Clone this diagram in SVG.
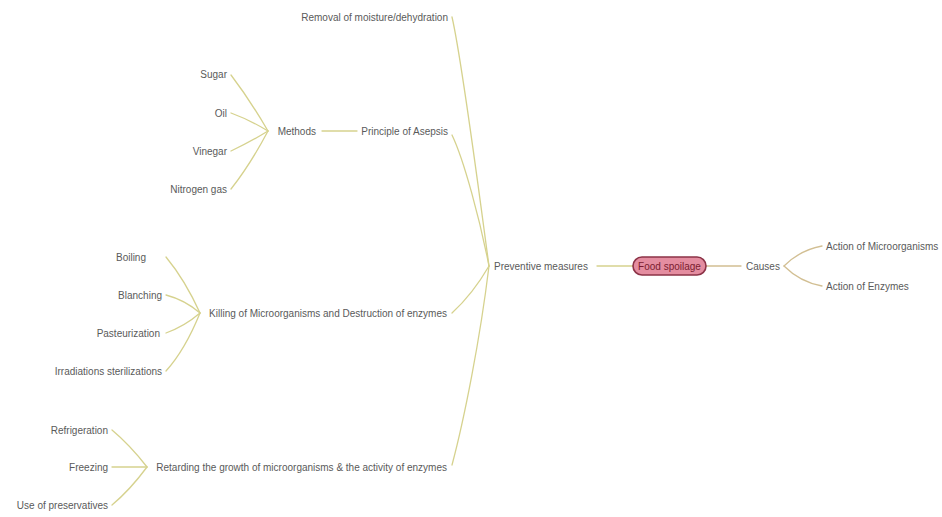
<svg xmlns="http://www.w3.org/2000/svg" width="942" height="517" viewBox="0 0 942 517">
  <style>
    .t { font-family: "Liberation Sans", Arial, sans-serif; font-size: 10px; fill: #5a5a5a; }
    .r { text-anchor: end; }
    .c { fill: none; stroke: #d6d28e; stroke-width: 1.3; stroke-linecap: round; }
    .cw { fill: none; stroke: #d2bf93; stroke-width: 1.3; stroke-linecap: round; }
    .root { fill: #e48da0; stroke: #8c3347; stroke-width: 1.6; }
    .rt { font-family: "Liberation Sans", Arial, sans-serif; font-size: 10px; fill: #7a1c30; text-anchor: middle; }
  </style>
  <rect width="942" height="517" fill="#ffffff"/>

  <g id="connectors">
    <!-- root links -->
    <path class="c" d="M597,266 L633,266"/>
    <path class="cw" d="M706,266 L741,266"/>
    <!-- causes -->
    <path class="cw" d="M784,266 Q800,250 822,246"/>
    <path class="cw" d="M784,266 Q800,282 822,286"/>
    <!-- preventive measures hub -->
    <path class="c" d="M489,266 C480,200 462,60 452,17"/>
    <path class="c" d="M489,266 C480,220 464,160 452,135"/>
    <path class="c" d="M489,266 C478,285 464,302 452,313"/>
    <path class="c" d="M489,266 C480,340 464,420 452,465"/>
    <!-- principle of asepsis -->
    <path class="c" d="M322,131 L357,131"/>
    <path class="c" d="M268,131 Q250,100 231,75"/>
    <path class="c" d="M268,131 Q250,120 231,113"/>
    <path class="c" d="M268,131 Q250,142 231,151"/>
    <path class="c" d="M268,131 Q250,165 231,189"/>
    <!-- killing -->
    <path class="c" d="M200,313 Q185,280 166,257"/>
    <path class="c" d="M200,313 Q185,300 166,295"/>
    <path class="c" d="M200,313 Q185,326 166,333"/>
    <path class="c" d="M200,313 Q185,350 166,371"/>
    <!-- retarding -->
    <path class="c" d="M147,467 Q130,445 112,430"/>
    <path class="c" d="M147,467 L112,467"/>
    <path class="c" d="M147,467 Q130,490 112,505"/>
  </g>

  <g id="food-spoilage">
    <rect class="root" x="633" y="257" width="73" height="18" rx="9"/>
    <text class="rt" x="669.5" y="269.5">Food spoilage</text>
  </g>
  <g id="causes"><text class="t" x="746" y="269.5">Causes</text></g>
  <g id="action-microorganisms"><text class="t" x="826" y="249.5">Action of Microorganisms</text></g>
  <g id="action-enzymes"><text class="t" x="826" y="289.5">Action of Enzymes</text></g>

  <g id="preventive-measures"><text class="t" x="494" y="269.5">Preventive measures</text></g>
  <g id="removal-moisture"><text class="t r" x="448" y="20.5">Removal of moisture/dehydration</text></g>
  <g id="principle-asepsis"><text class="t r" x="448" y="134.5">Principle of Asepsis</text></g>
  <g id="methods"><text class="t r" x="316" y="134.5">Methods</text></g>
  <g id="sugar"><text class="t r" x="227" y="77.5">Sugar</text></g>
  <g id="oil"><text class="t r" x="227" y="116.5">Oil</text></g>
  <g id="vinegar"><text class="t r" x="227" y="154.5">Vinegar</text></g>
  <g id="nitrogen-gas"><text class="t r" x="227" y="192.5">Nitrogen gas</text></g>

  <g id="killing"><text class="t r" x="447" y="316.5">Killing of Microorganisms and Destruction of enzymes</text></g>
  <g id="boiling"><text class="t r" x="146" y="260.5">Boiling</text></g>
  <g id="blanching"><text class="t r" x="162" y="298.5">Blanching</text></g>
  <g id="pasteurization"><text class="t r" x="160" y="336.5">Pasteurization</text></g>
  <g id="irradiations"><text class="t r" x="162" y="374.5">Irradiations sterilizations</text></g>

  <g id="retarding"><text class="t r" x="447" y="470.5">Retarding the growth of microorganisms &amp; the activity of enzymes</text></g>
  <g id="refrigeration"><text class="t r" x="108" y="433.5">Refrigeration</text></g>
  <g id="freezing"><text class="t r" x="108" y="470.5">Freezing</text></g>
  <g id="preservatives"><text class="t r" x="108" y="508.5">Use of preservatives</text></g>
</svg>
